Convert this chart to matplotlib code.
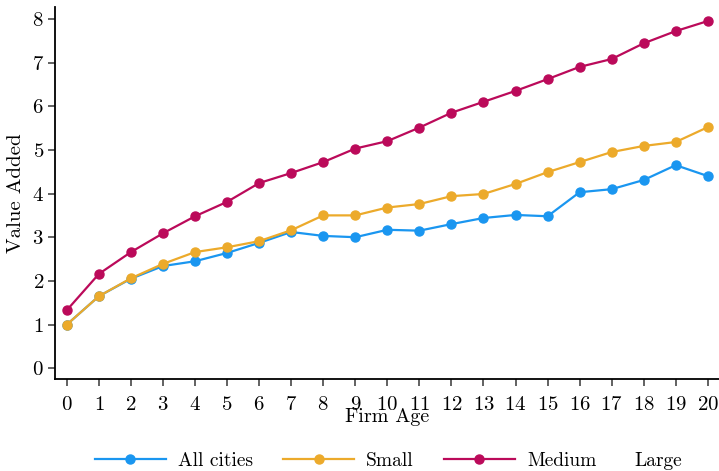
import matplotlib
matplotlib.use("Agg")
import matplotlib.pyplot as plt

plt.rcParams["font.family"] = "serif"
plt.rcParams["font.serif"] = ["cmr10", "DejaVu Serif"]
plt.rcParams["mathtext.fontset"] = "cm"
plt.rcParams["axes.formatter.use_mathtext"] = True

# value added by firm age, per city size group
ages = list(range(21))
all_cities = [1.00, 1.65, 2.05, 2.34, 2.45, 2.64, 2.87, 3.12, 3.03, 3.00, 3.17,
              3.15, 3.30, 3.44, 3.51, 3.48, 4.03, 4.10, 4.31, 4.65, 4.40]
small = [1.00, 1.65, 2.06, 2.39, 2.66, 2.77, 2.91, 3.16, 3.50, 3.50, 3.68,
         3.76, 3.94, 3.99, 4.22, 4.49, 4.72, 4.95, 5.09, 5.18, 5.52]
medium = [1.33, 2.16, 2.66, 3.09, 3.48, 3.81, 4.24, 4.47, 4.72, 5.03, 5.20,
          5.51, 5.85, 6.10, 6.35, 6.62, 6.90, 7.08, 7.44, 7.72, 7.95]

blue = "#1a96f0"
orange = "#ecaa2b"
magenta = "#bb0a5a"

fig = plt.figure(figsize=(7.19, 4.71), dpi=100)
ax = fig.add_axes([0.0765, 0.195, 0.9235, 0.79])

ax.plot(ages, all_cities, color=blue, lw=1.6, marker="o", ms=6.5, label="All cities")
ax.plot(ages, small, color=orange, lw=1.6, marker="o", ms=6.5, label="Small")
ax.plot(ages, medium, color=magenta, lw=1.6, marker="o", ms=6.5, label="Medium")

ax.set_xlim(-0.37, 20.35)
ax.set_ylim(-0.25, 8.27)
ax.set_xticks(ages)
ax.set_yticks(range(9))

ax.spines["top"].set_visible(False)
ax.spines["right"].set_visible(False)
for s in ["left", "bottom"]:
    ax.spines[s].set_linewidth(1.3)
ax.tick_params(axis="both", direction="out", length=5, width=1.3, color="#555555",
               labelsize=15)
ax.tick_params(axis="x", pad=7)
ax.tick_params(axis="y", pad=3)

ax.set_ylabel("Value Added", fontsize=15, labelpad=5)
ax.set_xlabel("Firm Age", fontsize=14.5, labelpad=-4)

fig.legend(loc="center left", bbox_to_anchor=(0.132, 0.022), ncol=3, frameon=False,
           fontsize=14, handlelength=3.65, handletextpad=0.62, columnspacing=1.55,
           borderpad=0, borderaxespad=0)
fig.text(0.882, 0.022, "Large", fontsize=14, ha="left", va="center")

fig.savefig("out.png", dpi=100)
